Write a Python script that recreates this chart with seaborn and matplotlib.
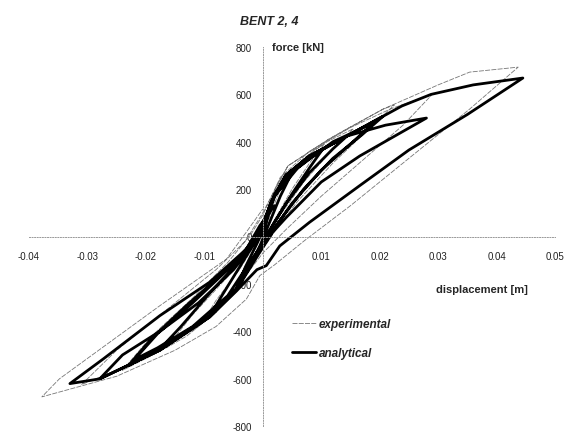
import pandas as pd
import seaborn as sns
import matplotlib.pyplot as plt

## data: displacement [m], force [kN]
## analytical: one continuous path through the cycles
ana_disp = [0.0, 0.0012, 0.003, 0.005, 0.003, 0.001, -0.0005, -0.002, -0.0045, -0.003, -0.001, 0.0003,
            0.002, 0.005, 0.008, 0.010, 0.008, 0.005, 0.002, 0.0, -0.0017, -0.0045, -0.0091,
            -0.007, -0.004, -0.0015, 0.0003,
            0.002, 0.005, 0.009, 0.0144, 0.012, 0.008, 0.004, 0.001, -0.0017, -0.0045, -0.0091, -0.0135, -0.0176,
            -0.014, -0.0091, -0.005, -0.002, 0.0,
            0.0015, 0.004, 0.008, 0.0144, 0.0206, 0.017, 0.012, 0.007, 0.003, 0.0, -0.0017, -0.0045, -0.0091,
            -0.0176, -0.023, -0.019, -0.013, -0.0075, -0.003, -0.0005,
            0.002, 0.006, 0.012, 0.019, 0.015, 0.010, 0.005, 0.001, -0.002, -0.006, -0.012, -0.018, -0.022,
            -0.018, -0.012, -0.006, -0.002, 0.0,
            0.0015, 0.004, 0.008, 0.0144, 0.021, 0.028, 0.0166, 0.010, 0.004, 0.0017, -0.0005,
            -0.0045, -0.0091, -0.0176, -0.0279, -0.024, -0.0176, -0.011, -0.005, -0.0015, 0.0,
            0.0012, 0.0038, 0.008, 0.0144, 0.0206, 0.0238, 0.0288, 0.036, 0.0445, 0.035, 0.025, 0.0166, 0.008,
            0.0029, 0.0006, -0.001, -0.0045, -0.0091, -0.0176, -0.0279, -0.033,
            -0.0273, -0.0176, -0.0091, -0.0028, -0.0005, 0.002]
ana_force = [0, 130, 220, 270, 170, 50, -40, -120, -221, -130, -30, 40,
             170, 270, 330, 360, 290, 180, 60, -30, -95, -221, -335,
             -250, -130, -30, 50,
             180, 275, 350, 424, 370, 270, 140, 20, -95, -221, -335, -410, -475,
             -380, -240, -130, -30, 50,
             150, 260, 340, 424, 508, 430, 330, 200, 70, -40, -95, -221, -335,
             -475, -545, -430, -290, -170, -60, 30,
             170, 290, 400, 480, 390, 280, 140, 0, -100, -250, -380, -470, -520,
             -410, -280, -140, -30, 40,
             150, 260, 340, 424, 470, 500, 340, 230, 80, 18, -66,
             -225, -340, -480, -601, -500, -400, -280, -140, -30, 40,
             130, 255, 340, 424, 508, 551, 600, 640, 669, 515, 365, 215, 60,
             -40, -123, -140, -230, -340, -480, -601, -621,
             -517, -334, -193, -53, 46, 130]

## experimental: thin grey path, slightly wider loops
exp_disp = [0.0, 0.0015, 0.004, 0.0025, 0.0005, -0.0015, -0.004, -0.0025, 0.0,
            0.002, 0.005, 0.009, 0.0105, 0.008, 0.005, 0.002, -0.001, -0.004, -0.008, -0.0105,
            -0.008, -0.004, -0.001, 0.001,
            0.003, 0.007, 0.011, 0.0155, 0.012, 0.007, 0.003, 0.0, -0.003, -0.008, -0.013, -0.0165,
            -0.012, -0.006, -0.002, 0.0005,
            0.0024, 0.0043, 0.0113, 0.0144, 0.0206, 0.0225, 0.018, 0.012, 0.006, 0.002, -0.001, -0.005,
            -0.011, -0.018, -0.024, -0.019, -0.012, -0.006, -0.002, 0.0,
            0.003, 0.008, 0.015, 0.022, 0.029, 0.024, 0.017, 0.010, 0.004, 0.0, -0.004, -0.010, -0.018,
            -0.026, -0.031, -0.025, -0.016, -0.008, -0.003, 0.0,
            0.0024, 0.0043, 0.0113, 0.0144, 0.0206, 0.030, 0.0354, 0.0437, 0.0354, 0.025, 0.015, 0.007,
            0.002, -0.0005, -0.0028, -0.008, -0.015, -0.025, -0.0378,
            -0.0348, -0.0176, -0.0062, -0.0028, 0.0]
exp_force = [0, 140, 250, 170, 40, -60, -190, -110, 20,
             180, 280, 370, 390, 310, 200, 70, -60, -200, -320, -370,
             -270, -140, -20, 80,
             230, 330, 400, 455, 370, 230, 90, -30, -150, -320, -420, -470,
             -330, -170, -30, 80,
             213, 298, 411, 454, 538, 555, 450, 310, 150, 20, -90, -240,
             -380, -490, -565, -420, -260, -110, 10, 90,
             250, 360, 460, 540, 600, 470, 320, 170, 30, -70, -200, -350, -480,
             -575, -625, -480, -300, -140, -20, 100,
             213, 298, 411, 454, 538, 640, 694, 715, 538, 330, 130, -20,
             -120, -165, -264, -380, -480, -590, -677,
             -601, -292, -95, 19, 116]

x_ticks = [-0.04, -0.03, -0.02, -0.01, 0.01, 0.02, 0.03, 0.04, 0.05]
y_ticks = [-800, -600, -400, -200, 0, 200, 400, 600, 800]

df_ana = pd.DataFrame({'disp': ana_disp, 'force': ana_force})
df_exp = pd.DataFrame({'disp': exp_disp, 'force': exp_force})

sns.set_style('white')
plt.rcParams['font.family'] = ['Liberation Sans', 'DejaVu Sans']

fig = plt.figure(figsize=(5.74, 4.35), dpi=100)
ax = fig.add_axes([29 / 574, 8 / 435, 526 / 574, 379 / 435])

sns.lineplot(data=df_exp, x='disp', y='force', sort=False, estimator=None, ax=ax,
             color='#777777', lw=0.6, linestyle=(0, (6, 1.5)), label='experimental')
sns.lineplot(data=df_ana, x='disp', y='force', sort=False, estimator=None, ax=ax,
             color='black', lw=2.0, label='analytical')

ax.set_xlim(-0.04, 0.05)
ax.set_ylim(-800, 800)
ax.set_xlabel('')
ax.set_ylabel('')

## axes crossing at the origin, faint dotted
for side in ['top', 'right']:
  ax.spines[side].set_visible(False)
for side in ['left', 'bottom']:
  ax.spines[side].set_position(('data', 0))
  ax.spines[side].set_linestyle(':')
  ax.spines[side].set_color('#999999')
  ax.spines[side].set_linewidth(0.7)

ax.set_xticks(x_ticks)
ax.set_xticklabels(['%.2f' % v for v in x_ticks])
ax.set_yticks(y_ticks)
ax.set_yticklabels([str(v) for v in y_ticks])
ax.tick_params(axis='both', direction='out', length=2, color='#999999', labelsize=7, labelcolor='#222222')
ax.tick_params(axis='x', pad=8.3)
ax.tick_params(axis='y', pad=5.8)

fig.text(269 / 574, 1 - 22 / 435, 'BENT 2, 4', ha='center', va='center',
         fontsize=9, fontweight='bold', fontstyle='italic')
fig.text(272 / 574, 1 - 48 / 435, 'force [kN]', ha='left', va='center',
         fontsize=8, fontweight='bold')
fig.text(436 / 574, 1 - 290 / 435, 'displacement [m]', ha='left', va='center',
         fontsize=8, fontweight='bold')

leg = ax.legend(loc='upper left', bbox_to_anchor=(292 / 574, 1 - 319 / 435),
                bbox_transform=fig.transFigure, frameon=False, borderpad=0, borderaxespad=0,
                handlelength=2.0, handletextpad=0.25, labelspacing=1.45,
                prop={'size': 8.5, 'weight': 'bold', 'style': 'italic'})

fig.savefig('out.png', dpi=100)
